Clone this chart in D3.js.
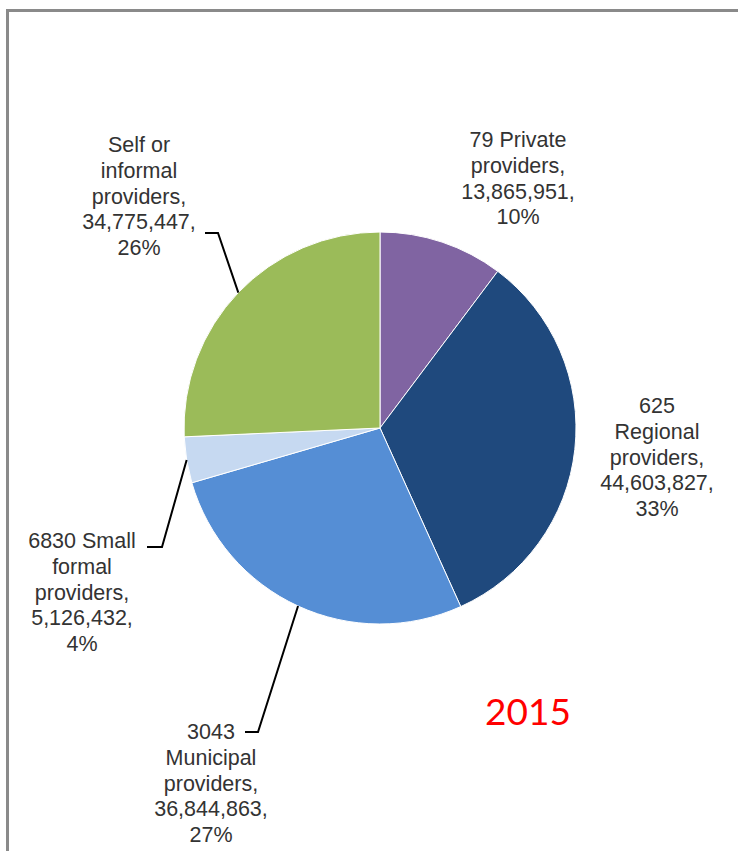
<!DOCTYPE html>
<html>
<head>
<meta charset="utf-8">
<script src="https://cdn.jsdelivr.net/npm/d3@7"></script>
<style>
  html, body { margin: 0; padding: 0; background: #fff; }
  svg { display: block; }
  .lbl { font-family: Arial, 'Liberation Sans', Helvetica, sans-serif; }
</style>
</head>
<body>
<div id="chart"></div>
<script>
// Chart data
const categories = [
  '79 Private providers',
  '625 Regional providers',
  '3043 Municipal providers',
  '6830 Small formal providers',
  'Self or informal providers'
];
const values = [13865951, 44603827, 36844863, 5126432, 34775447];
const percents = ['10%', '33%', '27%', '4%', '26%'];
const colors = ['#8064A2', '#1F497D', '#558ED5', '#C6D9F1', '#9BBB59'];
const yearLabel = '2015';

// Label lines as they wrap in the picture
const labelLines = [
  ['79 Private', 'providers,'],
  ['625', 'Regional', 'providers,'],
  ['3043', 'Municipal', 'providers,'],
  ['6830 Small', 'formal', 'providers,'],
  ['Self or', 'informal', 'providers,']
];

// Label layout (center x, first baseline, leader elbow + horizontal end)
const labelLayout = [
  { x: 518, y: 147, leader: null },
  { x: 657, y: 413, leader: null },
  { x: 211, y: 739, leader: { ex: 258, ey: 732, hx: 245 } },
  { x: 82,  y: 548, leader: { ex: 162, ey: 547, hx: 147 } },
  { x: 139, y: 152, leader: { ex: 218, ey: 233, hx: 205 } }
];

const width = 738, height = 851;
const cx = 380, cy = 428, radius = 196;
const lineH = 25.8;

const svg = d3.select('#chart')
  .append('svg')
  .attr('width', width)
  .attr('height', height);

// Frame border
svg.append('rect')
  .attr('x', 7.5)
  .attr('y', 10.5)
  .attr('width', width + 10)
  .attr('height', height + 10)
  .attr('fill', 'none')
  .attr('stroke', '#8a8a8a')
  .attr('stroke-width', 3);

const data = categories.map((c, i) => ({
  name: c,
  value: values[i],
  pct: percents[i],
  color: colors[i],
  lines: labelLines[i].concat([d3.format(',')(values[i]) + ',', percents[i]]),
  layout: labelLayout[i]
}));

const pie = d3.pie()
  .value(d => d.value)
  .sort(null);

const arc = d3.arc()
  .innerRadius(0)
  .outerRadius(radius);

const g = svg.append('g')
  .attr('transform', `translate(${cx},${cy})`);

const arcs = pie(data);

g.selectAll('path')
  .data(arcs)
  .enter()
  .append('path')
  .attr('d', arc)
  .attr('fill', d => d.data.color)
  .attr('stroke', '#fff')
  .attr('stroke-width', 1);

// Leader lines from the slice mid-angle on the rim
arcs.forEach(a => {
  const L = a.data.layout.leader;
  if (!L) return;
  const mid = (a.startAngle + a.endAngle) / 2;
  const px = cx + radius * Math.sin(mid);
  const py = cy - radius * Math.cos(mid);
  svg.append('polyline')
    .attr('points', `${px},${py} ${L.ex},${L.ey} ${L.hx},${L.ey}`)
    .attr('fill', 'none')
    .attr('stroke', '#000')
    .attr('stroke-width', 2);
});

// Data labels
const labels = svg.selectAll('text.lbl')
  .data(data)
  .enter()
  .append('text')
  .attr('class', 'lbl')
  .attr('text-anchor', 'middle')
  .attr('font-size', 21.5)
  .attr('fill', '#333');

labels.each(function(d) {
  d3.select(this).selectAll('tspan')
    .data(d.lines)
    .enter()
    .append('tspan')
    .attr('x', d.layout.x)
    .attr('y', (t, i) => d.layout.y + i * lineH)
    .text(t => t);
});

// Year
svg.append('text')
  .attr('x', 528)
  .attr('y', 725)
  .attr('text-anchor', 'middle')
  .attr('font-family', 'Lato, "Open Sans", sans-serif')
  .attr('font-size', 37)
  .attr('fill', '#FF0000')
  .text(yearLabel);
</script>
</body>
</html>
